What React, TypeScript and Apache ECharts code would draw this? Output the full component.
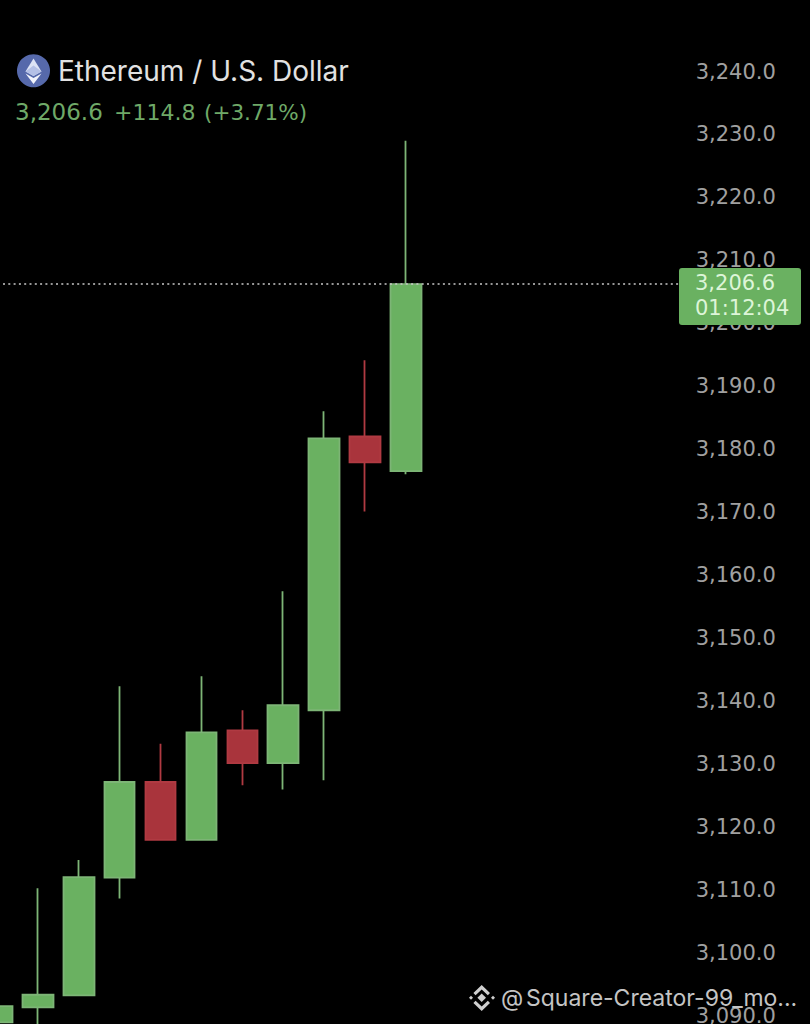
import React, { useEffect, useRef } from "react";
import * as echarts from "echarts";

// [open, close, low, high]
const candles: number[][] = [
  [3088.9, 3091.5, 3088.9, 3091.5],
  [3091.3, 3093.3, 3087.0, 3110.2],
  [3093.2, 3112.0, 3093.2, 3114.7],
  [3111.9, 3127.1, 3108.6, 3142.3],
  [3127.1, 3117.9, 3117.9, 3133.2],
  [3117.9, 3135.0, 3117.9, 3143.9],
  [3135.3, 3130.1, 3126.6, 3138.5],
  [3130.1, 3139.3, 3125.9, 3157.4],
  [3138.5, 3181.7, 3127.4, 3186.0],
  [3182.0, 3177.9, 3170.1, 3194.1],
  [3176.5, 3206.2, 3176.0, 3229.0],
];
const categories: string[] = Array.from({ length: 18 }, (_, i) => `C${i + 1}`);
const lastPriceLine = 3206.2;
const titleText = "Ethereum / U.S. Dollar";
const priceText = "3,206.6";
const changeText = "+114.8";
const percentText = "(+3.71%)";
const countdownText = "01:12:04";
const watermarkAt = "@";
const watermarkText = "Square-Creator-99_mo...";

const GREEN = "#6AB161";
const RED = "#A9343C";
const FONT = "Inter, 'Noto Sans', sans-serif";
const NUM_FONT = "'DejaVu Sans', Inter, sans-serif";

export default function App() {
  const ref = useRef<HTMLDivElement>(null);
  useEffect(() => {
    document.body.style.margin = "0";
    document.body.style.background = "#000";
    const chart = echarts.init(ref.current!, undefined, { renderer: "svg" });
    const text = (x: number, y: number, t: string, fill: string, size: number, family: string = FONT) => ({
      type: "text",
      x,
      y,
      z: 100,
      style: { text: t, fill, font: `${size}px ${family}`, textVerticalAlign: "middle" },
    });
    chart.setOption({
      animation: false,
      backgroundColor: "#000000",
      grid: { left: -23.5, top: 71.5, width: 736.2, height: 944, containLabel: false, outerBoundsMode: "none" },
      xAxis: {
        type: "category",
        data: categories,
        boundaryGap: true,
        axisLine: { show: false },
        axisTick: { show: false },
        axisLabel: { show: false },
        splitLine: { show: false },
      },
      yAxis: {
        type: "value",
        position: "right",
        min: 3090,
        max: 3240,
        interval: 10,
        axisLine: { show: false },
        axisTick: { show: false },
        splitLine: { show: false },
        axisLabel: {
          margin: -17,
          color: "#A0A0A0",
          fontSize: 21,
          fontFamily: NUM_FONT,
          align: "left",
          padding: [2, 0, 0, 0],
          showMinLabel: true,
          showMaxLabel: true,
          formatter: (v: number) =>
            v.toLocaleString("en-US", { minimumFractionDigits: 1, maximumFractionDigits: 1 }),
        },
      },
      series: [
        {
          type: "candlestick",
          data: candles,
          barWidth: 31,
          clip: false,
          itemStyle: {
            color: GREEN,
            color0: RED,
            borderColor: "#7DB576",
            borderColor0: "#B03A42",
            borderWidth: 1.8,
          },
          markLine: {
            silent: true,
            symbol: "none",
            animation: false,
            label: { show: false },
            lineStyle: { color: "#C8C8C8", type: [2, 3.3], width: 1.5 },
            data: [{ yAxis: lastPriceLine }],
          },
        },
      ],
      graphic: [
        { type: "circle", z: 100, shape: { cx: 33.5, cy: 70.7, r: 16.5 }, style: { fill: "#5669AB" } },
        { type: "polygon", z: 101, shape: { points: [[33.5, 58.5], [41.5, 71.5], [33.5, 76], [25.5, 71.5]] }, style: { fill: "#DDE3F5" } },
        { type: "polygon", z: 101, shape: { points: [[25.5, 73.5], [33.5, 78], [41.5, 73.5], [33.5, 84]] }, style: { fill: "#F1F3FB" } },
        { type: "polygon", z: 102, shape: { points: [[33.5, 65.5], [41.5, 71.5], [33.5, 76], [25.5, 71.5]] }, style: { fill: "#B4C0E6" } },
        text(58, 71, titleText, "#E2E2E2", 28),
        text(15, 112, priceText, "#6FA968", 23, NUM_FONT),
        text(114, 112, changeText, "#6FA968", 22, NUM_FONT),
        text(204, 112, percentText, "#6FA968", 21.5, NUM_FONT),
        { type: "rect", z: 100, shape: { x: 679, y: 268, width: 122, height: 57, r: 3 }, style: { fill: GREEN } },
        text(695, 283, priceText, "#DDF5D8", 21, NUM_FONT),
        text(695, 308, countdownText, "#DDF5D8", 21, NUM_FONT),
        { type: "polygon", z: 100, shape: { points: [[481.7, 993.5], [486, 997.8], [481.7, 1002], [477.4, 997.8]] }, style: { fill: "#CFCFCF" } },
        { type: "polygon", z: 100, shape: { points: [[471, 995.8], [473, 997.8], [471, 999.8], [469, 997.8]] }, style: { fill: "#CFCFCF" } },
        { type: "polygon", z: 100, shape: { points: [[493, 995.8], [495, 997.8], [493, 999.8], [491, 997.8]] }, style: { fill: "#CFCFCF" } },
        { type: "polygon", z: 100, shape: { points: [[481.7, 985], [490, 993], [487.8, 995.2], [481.7, 989.4], [475.6, 995.2], [473.4, 993]] }, style: { fill: "#CFCFCF" } },
        { type: "polygon", z: 100, shape: { points: [[481.7, 1011], [490, 1003], [487.8, 1000.8], [481.7, 1006.6], [475.6, 1000.8], [473.4, 1003]] }, style: { fill: "#CFCFCF" } },
        text(501, 998, watermarkAt, "#C4C4C4", 23),
        text(526, 998, watermarkText, "#C4C4C4", 23),
      ],
    });
    return () => chart.dispose();
  }, []);
  return <div ref={ref} style={{ width: 810, height: 1024 }} />;
}
